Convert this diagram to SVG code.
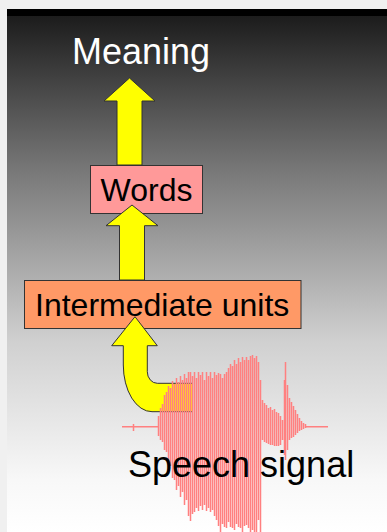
<svg xmlns="http://www.w3.org/2000/svg" width="387" height="532" viewBox="0 0 387 532">
<defs>
<linearGradient id="bg" gradientUnits="userSpaceOnUse" x1="0" y1="16" x2="0" y2="532">
<stop offset="0" stop-color="#1c1c1c"/>
<stop offset="0.30" stop-color="#787878"/>
<stop offset="0.63" stop-color="#d0d0d0"/>
<stop offset="0.90" stop-color="#f8f8f8"/>
<stop offset="1" stop-color="#ffffff"/>
</linearGradient>
<style>
.arrow{fill:#ffff00;stroke:#333333;stroke-width:1;stroke-linejoin:miter}
.box{stroke:#333333;stroke-width:1}
.lbl{font-family:"Liberation Sans",Arial,sans-serif}
.wave{stroke:#ff8080;stroke-width:1.5;fill:none}
</style>
</defs>
<rect x="0" y="0" width="387" height="532" fill="#f0f0f0"/>
<rect x="7" y="16" width="380" height="516" fill="url(#bg)"/>
<rect x="7" y="9" width="380" height="7" fill="#000000"/>
<g id="meaning"><text class="lbl" x="72" y="64" font-size="36" fill="#ffffff">Meaning</text></g>
<g id="connectors">
<polygon class="arrow" points="117,165 117,101 104,101 129.5,78 155,101 142,101 142,165"/>
</g>
<g id="words">
<rect class="box" x="90.5" y="165.5" width="112" height="48" fill="#ff9999"/>
<text class="lbl" x="146.5" y="201" font-size="32" text-anchor="middle" fill="#000000">Words</text>
</g>
<g id="connectors2">
<polygon class="arrow" points="119.5,280 119.5,225.7 106,225.7 132,205 158,225.7 144.5,225.7 144.5,280"/>
</g>
<g id="intermediate">
<rect class="box" x="24.5" y="280.5" width="276.5" height="48" fill="#ff9966"/>
<text class="lbl" x="35" y="315.7" font-size="32" fill="#000000">Intermediate units</text>
</g>
<g id="connectors3">
<path fill="#ffff00" d="M135,316.7 L157.3,345.7 L147.3,345.7 L147.3,371.7 A10,11.6 0 0 0 157.3,383.3 L192,383.3 L192,411.7 L152,411.7 A28.7,46.7 0 0 1 123.3,365 L123.3,345.7 L111.7,345.7 Z"/>
<path fill="none" stroke="#333333" stroke-width="1" d="M192,383.3 L157.3,383.3 A10,11.6 0 0 1 147.3,371.7 L147.3,345.7 L157.3,345.7 L135,316.7 L111.7,345.7 L123.3,345.7 L123.3,365 A28.7,46.7 0 0 0 152,411.7 L192,411.7"/>
</g>
<g id="speech">
<path class="wave" d="M122,426.8 H158 M133.5,424 V431 M306,426.8 H328"/>
<path class="wave" d="M158.5,416V436 M160.5,408V440 M162.5,404V442 M164.5,395V450 M166.5,392V452 M168.5,386V462 M170.5,388V466 M172.5,381V478 M174.5,384V480 M176.5,378V490 M178.5,382V486 M180.5,376V497 M182.5,380V492 M184.5,374V505 M186.5,378V500 M188.5,372V516 M190.5,372V521 M192.5,376V514 M194.5,372V512 M196.5,378V508 M198.5,372V511 M200.5,375V506 M202.5,372V510 M204.5,380V505 M206.5,372V511 M208.5,376V508 M210.5,372V512 M212.5,378V510 M214.5,372V516 M216.5,375V520 M218.5,373V526 M220.5,374V532 M222.5,378V524 M224.5,374V527 M226.5,372V528 M228.5,368V522 M230.5,364V527 M232.5,366V528 M234.5,360V530 M236.5,364V524 M238.5,358V527 M240.5,362V528 M242.5,357V532 M244.5,360V526 M246.5,357V525 M248.5,360V528 M250.5,356V532 M252.5,355V530 M254.5,358V532 M256.5,356V532 M258.5,362V520 M260.5,380V532 M262.5,400V440 M264.5,403V442 M266.5,405V443 M268.5,408V444 M270.5,407V445 M272.5,410V445 M274.5,409V446 M276.5,412V446 M278.5,413V446 M280.5,416V445 M282.5,420V440 M284.5,380V455 M285.5,362V460 M287.5,385V450 M289.5,398V440 M291.5,402V438 M293.5,406V437 M295.5,410V435 M297.5,414V433 M299.5,418V431 M301.5,421V430 M303.5,423V429 M305.5,424V428"/>
<text class="lbl" x="128" y="476.7" font-size="36" fill="#000000">Speech signal</text>
</g>
</svg>
